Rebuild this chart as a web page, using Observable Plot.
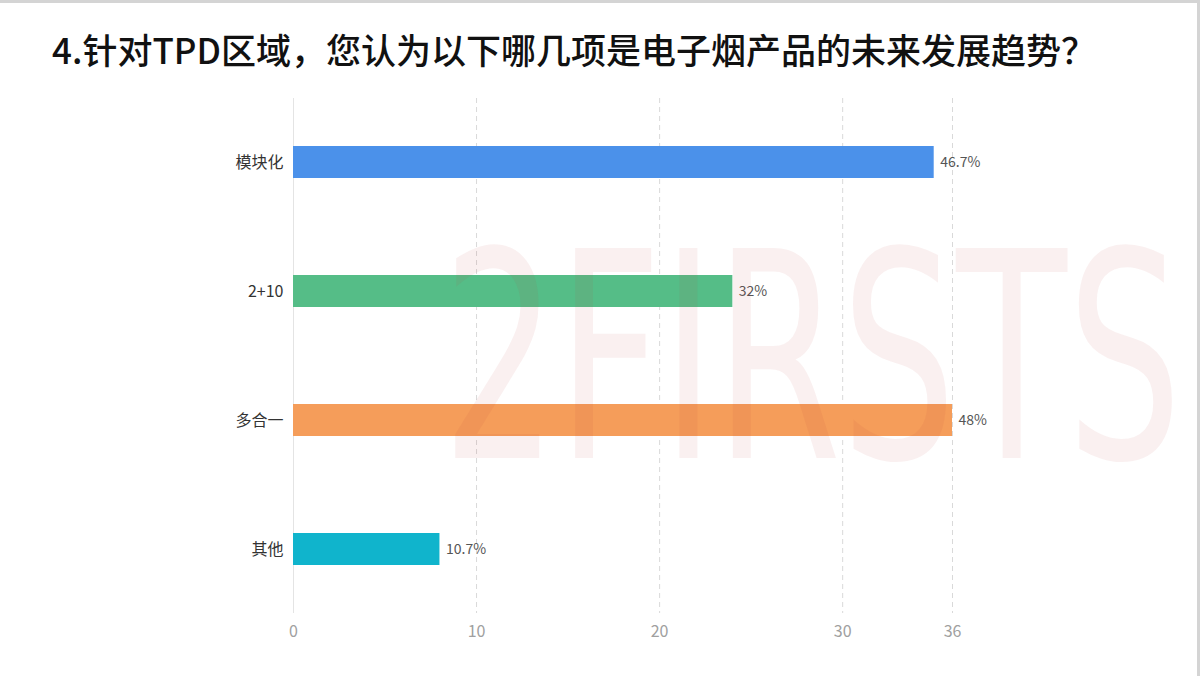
<!DOCTYPE html>
<html>
<head>
<meta charset="utf-8">
<script src="https://cdn.jsdelivr.net/npm/d3@7"></script>
<script src="https://cdn.jsdelivr.net/npm/@observablehq/plot@0.6"></script>
<style>
  html, body { margin: 0; padding: 0; background: #fff; }
  body { width: 1200px; height: 676px; overflow: hidden; position: relative; box-sizing: border-box; border-top: 3px solid #d4d4d4; border-right: 3px solid #d4d4d4; }
  #title { position: absolute; left: 52px; top: 25px; font-family: "Noto Sans CJK SC", sans-serif; font-size: 35px; font-weight: 500; color: #111; white-space: nowrap; line-height: 1.2; }
  #chart { position: absolute; left: 0; top: 90px; }
</style>
</head>
<body>
<div id="title">4.针对TPD区域，您认为以下哪几项是电子烟产品的未来发展趋势？</div>
<div id="chart"></div>
<script>
const categories = ["模块化", "2+10", "多合一", "其他"];
const counts = [35, 24, 36, 8];
const percentLabels = ["46.7%", "32%", "48%", "10.7%"];
const barColors = ["#4b91ea", "#55bd87", "#f59d5a", "#10b4cc"];
const xTicks = [0, 10, 20, 30, 36];
const watermark = "2FIRSTS";

const data = categories.map((c, i) => ({cat: c, value: counts[i], label: percentLabels[i], color: barColors[i]}));

const plot = Plot.plot({
  width: 1197,
  height: 586,
  marginLeft: 293,
  marginRight: 245,
  marginTop: 5,
  marginBottom: 66,
  style: {fontFamily: "'Noto Sans CJK SC', sans-serif", background: "transparent"},
  x: {domain: [0, 36], ticks: xTicks, label: null},
  y: {domain: categories, paddingInner: 0.75, paddingOuter: 0.365, label: null},
  marks: [
    Plot.ruleX(xTicks.filter(d => d > 0), {stroke: "#d9d9d9", strokeDasharray: "5,4", strokeWidth: 1}),
    Plot.ruleX([0], {stroke: "#e4e4e4", strokeWidth: 1}),
    Plot.barX(data, {y: "cat", x: "value", fill: "color"}),
    Plot.text(data, {y: "cat", x: "value", text: "label", textAnchor: "start", dx: 6, fill: "#555", fontSize: 14}),
    Plot.axisX({ticks: xTicks, tickSize: 0, tickPadding: 12, fontSize: 16, color: "#a0a0a0", tickFormat: d => String(d), label: null}),
    Plot.axisY({tickSize: 0, tickPadding: 10, fontSize: 16, color: "#333", label: null})
  ]
});
document.getElementById("chart").appendChild(plot);

// faint watermark overlay, horizontally condensed to fit its span
const svg = d3.select(plot);
const wm = svg.append("text")
  .attr("text-anchor", "start")
  .attr("font-family", "'DejaVu Sans Condensed', 'DejaVu Sans', sans-serif")
  .attr("font-weight", 400)
  .attr("font-size", 288)
  .attr("fill", "#c04040").attr("fill-opacity", 0.08)
  .style("pointer-events", "none")
  .text(watermark);
const natural = wm.node().getComputedTextLength() || 1000;
wm.attr("transform", `translate(442,365) scale(${740 / natural},1)`);
</script>
</body>
</html>
